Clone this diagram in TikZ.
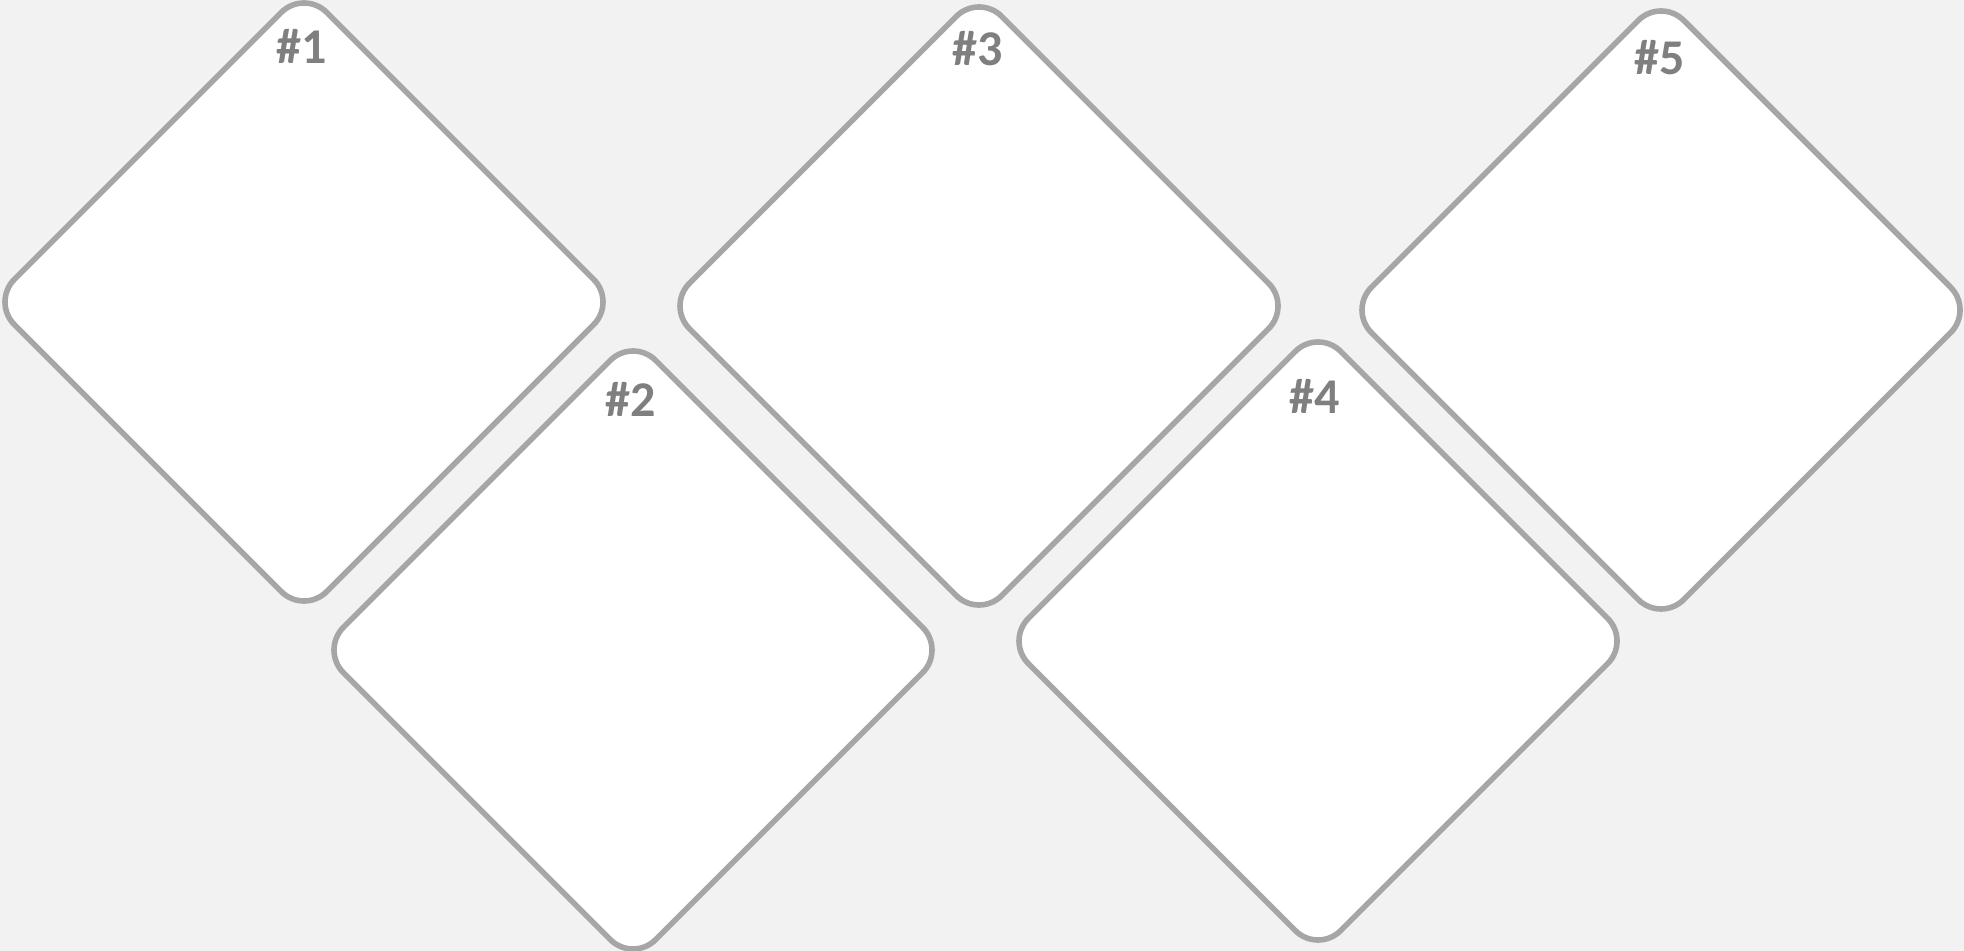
\documentclass[tikz,border=0pt]{standalone}
\usepackage{fontspec}
\newfontfamily\carlito{Carlito}[BoldFont={Carlito Bold}]
\definecolor{bgc}{HTML}{F2F2F2}
\definecolor{edgec}{HTML}{A6A6A6}
\definecolor{labc}{HTML}{7F7F7F}
\tikzset{
  card/.style={draw=edgec, line width=2.8pt, fill=white, rectangle, rotate=45,
    minimum width=220.8pt, minimum height=220.8pt, inner sep=0pt, rounded corners=16pt},
  cardlabel/.style={text=labc, anchor=base, inner sep=0pt,
    font=\carlito\bfseries\fontsize{25pt}{25pt}\selectfont}
}
\begin{document}
\begin{tikzpicture}[x=0.5pt,y=-0.5pt]
\fill[bgc] (0,0) rectangle (1964,951);
\useasboundingbox (0,0) rectangle (1964,951);
\node[card] (d1) at (304,302) {};
\node[card] (d3) at (979,306) {};
\node[card] (d5) at (1661,310) {};
\node[card] (d2) at (633,650) {};
\node[card] (d4) at (1318,641) {};
\node[cardlabel] (l1) at (302,64) {\#1};
\node[cardlabel] (l2) at (631,417) {\#2};
\node[cardlabel] (l3) at (978,66) {\#3};
\node[cardlabel] (l4) at (1315,414) {\#4};
\node[cardlabel] (l5) at (1660,75) {\#5};
\end{tikzpicture}
\end{document}
